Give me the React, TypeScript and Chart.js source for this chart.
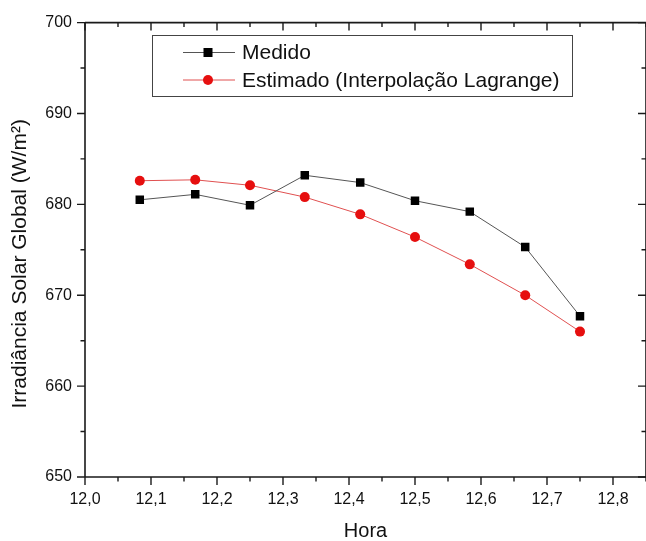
import { useEffect, useRef } from 'react';
import { Chart, registerables } from 'chart.js';

Chart.register(...registerables);

const FONT = '"Liberation Sans", Arial, sans-serif';

const hora = [12.083, 12.167, 12.25, 12.333, 12.417, 12.5, 12.583, 12.667, 12.75];
const medido = [680.5, 681.1, 679.9, 683.2, 682.4, 680.4, 679.2, 675.3, 667.7];
const estimado = [682.6, 682.7, 682.1, 680.8, 678.9, 676.4, 673.4, 670.0, 666.0];

const seriesLabels = ['Medido', 'Estimado (Interpolação Lagrange)'];
const xTitle = 'Hora';
const yTitle = 'Irradiância Solar Global (W/m²)';

const xMajorTicks = [12.0, 12.1, 12.2, 12.3, 12.4, 12.5, 12.6, 12.7, 12.8];
const xMinorTicks = [12.05, 12.15, 12.25, 12.35, 12.45, 12.55, 12.65, 12.75, 12.85];
const yMajorTicks = [650, 660, 670, 680, 690, 700];
const yMinorTicks = [655, 665, 675, 685, 695];

const frameColor = '#1a1a1a';

const framePlugin = {
  id: 'frameTicks',
  afterDraw(chart: any) {
    const { ctx, chartArea } = chart;
    const xs = chart.scales.x;
    const ys = chart.scales.y;
    const { left, right, top, bottom } = chartArea;
    ctx.save();
    ctx.strokeStyle = frameColor;
    ctx.lineWidth = 1.6;
    ctx.beginPath();
    ctx.moveTo(left, top);
    ctx.lineTo(right, top);
    ctx.moveTo(left, top);
    ctx.lineTo(left, bottom);
    ctx.moveTo(left, bottom);
    ctx.lineTo(right, bottom);
    ctx.moveTo(right, top);
    ctx.lineTo(right, bottom);
    ctx.stroke();

    ctx.lineWidth = 1.4;
    ctx.beginPath();
    const major = 8;
    const minor = 4.5;
    xMajorTicks.forEach((v) => {
      const px = xs.getPixelForValue(v);
      ctx.moveTo(px, bottom);
      ctx.lineTo(px, bottom + major);
      ctx.moveTo(px, top);
      ctx.lineTo(px, top + major);
    });
    xMinorTicks.forEach((v) => {
      const px = xs.getPixelForValue(v);
      ctx.moveTo(px, bottom);
      ctx.lineTo(px, bottom + minor);
      ctx.moveTo(px, top);
      ctx.lineTo(px, top + minor);
    });
    yMajorTicks.forEach((v) => {
      const py = ys.getPixelForValue(v);
      ctx.moveTo(left, py);
      ctx.lineTo(left - major, py);
      ctx.moveTo(right, py);
      ctx.lineTo(right - major, py);
    });
    yMinorTicks.forEach((v) => {
      const py = ys.getPixelForValue(v);
      ctx.moveTo(left, py);
      ctx.lineTo(left - minor, py);
      ctx.moveTo(right, py);
      ctx.lineTo(right - minor, py);
    });
    ctx.stroke();

    // y axis title
    ctx.fillStyle = '#111';
    ctx.font = `21px ${FONT}`;
    ctx.textAlign = 'center';
    ctx.textBaseline = 'middle';
    ctx.translate(20, (top + bottom) / 2 + 14);
    ctx.rotate(-Math.PI / 2);
    ctx.fillText(yTitle, 0, 0);
    ctx.restore();
  },
};

const legendPlugin = {
  id: 'insideLegend',
  afterDraw(chart: any) {
    const { ctx } = chart;
    const bx = 152.5, by = 35.5, bw = 420, bh = 61;
    ctx.save();
    ctx.fillStyle = '#fff';
    ctx.fillRect(bx, by, bw, bh);
    ctx.strokeStyle = '#444';
    ctx.lineWidth = 1;
    ctx.strokeRect(bx, by, bw, bh);
    const rows = [52.5, 80];
    chart.data.datasets.forEach((ds: any, i: number) => {
      const y = rows[i];
      ctx.strokeStyle = ds.borderColor;
      ctx.lineWidth = 1;
      ctx.beginPath();
      ctx.moveTo(183, y);
      ctx.lineTo(235, y);
      ctx.stroke();
      ctx.fillStyle = ds.pointBackgroundColor;
      if (ds.pointStyle === 'rect') {
        ctx.fillRect(208 - 4.5, y - 4.5, 9, 9);
      } else {
        ctx.beginPath();
        ctx.arc(208, y, 5, 0, Math.PI * 2);
        ctx.fill();
      }
      ctx.fillStyle = '#111';
      ctx.font = `21px ${FONT}`;
      ctx.textAlign = 'left';
      ctx.textBaseline = 'middle';
      ctx.fillText(ds.label, 242, y + 1);
    });
    ctx.restore();
  },
};

export default function App() {
  const canvasRef = useRef<HTMLCanvasElement | null>(null);

  useEffect(() => {
    document.body.style.margin = '0';
    const canvas = canvasRef.current;
    if (!canvas) return;
    const chart = new Chart(canvas, {
      type: 'line',
      data: {
        datasets: [
          {
            label: seriesLabels[0],
            data: hora.map((x, i) => ({ x, y: medido[i] })),
            borderColor: '#555555',
            borderWidth: 1,
            pointStyle: 'rect',
            pointRadius: 6,
            pointBackgroundColor: '#000000',
            pointBorderWidth: 0,
            pointBorderColor: '#000000',
            tension: 0,
          },
          {
            label: seriesLabels[1],
            data: hora.map((x, i) => ({ x, y: estimado[i] })),
            borderColor: '#e05050',
            borderWidth: 1,
            pointStyle: 'circle',
            pointRadius: 5,
            pointBackgroundColor: '#e60f0f',
            pointBorderWidth: 0,
            pointBorderColor: '#e60f0f',
            tension: 0,
          },
        ],
      },
      options: {
        responsive: false,
        animation: false,
        events: [],
        layout: { autoPadding: false, padding: { top: 20, right: 0, left: 0, bottom: 0 } },
        plugins: {
          legend: { display: false },
          tooltip: { enabled: false },
        },
        scales: {
          x: {
            type: 'linear',
            position: 'bottom',
            min: 12.0,
            max: 12.85,
            afterFit: (s: any) => {
              s.height = 64;
              s.paddingLeft = 0;
              s.paddingRight = 0;
            },
            grid: { display: false, drawTicks: false },
            border: { display: false },
            ticks: {
              stepSize: 0.1,
              includeBounds: false,
              padding: 13,
              autoSkip: false,
              maxRotation: 0,
              color: '#111',
              font: { family: FONT, size: 16 },
              callback: (v: any) => Number(v).toFixed(1).replace('.', ','),
            },
            title: {
              display: true,
              text: xTitle,
              color: '#111',
              font: { family: FONT, size: 20 },
              padding: { top: 0, bottom: -2 },
            },
          },
          y: {
            type: 'linear',
            min: 650,
            max: 700,
            afterFit: (s: any) => {
              s.width = 85;
            },
            grid: { display: false, drawTicks: false },
            border: { display: false },
            ticks: {
              stepSize: 10,
              padding: 13,
              color: '#111',
              font: { family: FONT, size: 16 },
            },
          },
        },
      },
      plugins: [framePlugin, legendPlugin],
    });
    return () => chart.destroy();
  }, []);

  return (
    <div style={{ position: 'absolute', left: 0, top: 0, width: 646, height: 541 }}>
      <canvas ref={canvasRef} width={646} height={541} style={{ display: 'block' }} />
    </div>
  );
}
